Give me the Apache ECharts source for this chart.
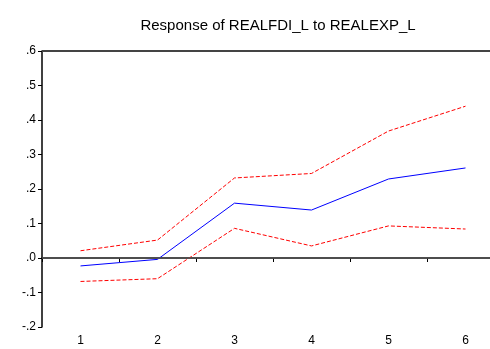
<!DOCTYPE html>
<html>
<head>
<meta charset="utf-8">
<script src="https://cdn.jsdelivr.net/npm/echarts@6/dist/echarts.min.js"></script>
<style>
  html, body { margin: 0; padding: 0; background: #fff; overflow: hidden; }
  #chart { width: 490px; height: 349px; }
</style>
</head>
<body>
<div id="chart"></div>
<script>
// Impulse response of REALFDI_L to REALEXP_L with +/- 2 S.E. bands
const periods = ['1', '2', '3', '4', '5', '6'];
const response = [-0.023, -0.004, 0.159, 0.139, 0.229, 0.261];
const upperBand = [0.021, 0.052, 0.232, 0.245, 0.368, 0.440];
const lowerBand = [-0.068, -0.060, 0.086, 0.035, 0.093, 0.084];
const yTicks = { min: -0.2, max: 0.6, step: 0.1 };

function fmtTick(v) {
  const r = Math.round(v * 10) / 10;
  let s = r.toFixed(1);
  if (s.startsWith('0.')) s = s.slice(1);
  else if (s.startsWith('-0.')) s = '-' + s.slice(2);
  return s;
}

const chart = echarts.init(document.getElementById('chart'), null, { renderer: 'canvas' });

const font = 'Liberation Sans, Arial, sans-serif';

chart.setOption({
  animation: false,
  backgroundColor: '#ffffff',
  title: {
    text: 'Response of REALFDI_L to REALEXP_L',
    left: 273,
    textAlign: 'center',
    top: 13,
    textStyle: { fontFamily: font, fontSize: 15, fontWeight: 'normal', color: '#000' }
  },
  // plot area runs past the right edge of the canvas
  grid: { left: 42, width: 462, top: 51, height: 276, outerBoundsMode: 'none' },
  xAxis: {
    type: 'category',
    data: periods,
    boundaryGap: true,
    axisLine: { show: true, lineStyle: { color: '#000', width: 1.5 } },
    axisTick: { show: true, length: 4, lineStyle: { color: '#000' } },
    axisLabel: { fontFamily: font, fontSize: 12, color: '#000', margin: 8 },
    splitLine: { show: false }
  },
  yAxis: {
    type: 'value',
    min: yTicks.min,
    max: yTicks.max,
    interval: yTicks.step,
    axisLine: { show: true, lineStyle: { color: '#000', width: 1.5 } },
    axisTick: { show: true, length: 4, lineStyle: { color: '#000' } },
    axisLabel: { fontFamily: font, fontSize: 12, color: '#000', margin: 6, formatter: fmtTick },
    splitLine: { show: false }
  },
  series: [
    {
      name: 'upper',
      type: 'line',
      data: upperBand,
      symbol: 'none',
      lineStyle: { color: '#ff0000', width: 1, type: [4, 2] },
      z: 3
    },
    {
      name: 'lower',
      type: 'line',
      data: lowerBand,
      symbol: 'none',
      lineStyle: { color: '#ff0000', width: 1, type: [4, 2] },
      z: 3
    },
    {
      name: 'response',
      type: 'line',
      data: response,
      symbol: 'none',
      lineStyle: { color: '#0000ff', width: 1 },
      z: 4,
      markLine: {
        silent: true,
        symbol: 'none',
        label: { show: false },
        data: [
          { yAxis: 0, lineStyle: { color: '#555', width: 1.5, type: 'solid' } },
          { yAxis: yTicks.max, lineStyle: { color: '#444', width: 2, type: 'solid' } }
        ]
      }
    }
  ]
});
</script>
</body>
</html>
